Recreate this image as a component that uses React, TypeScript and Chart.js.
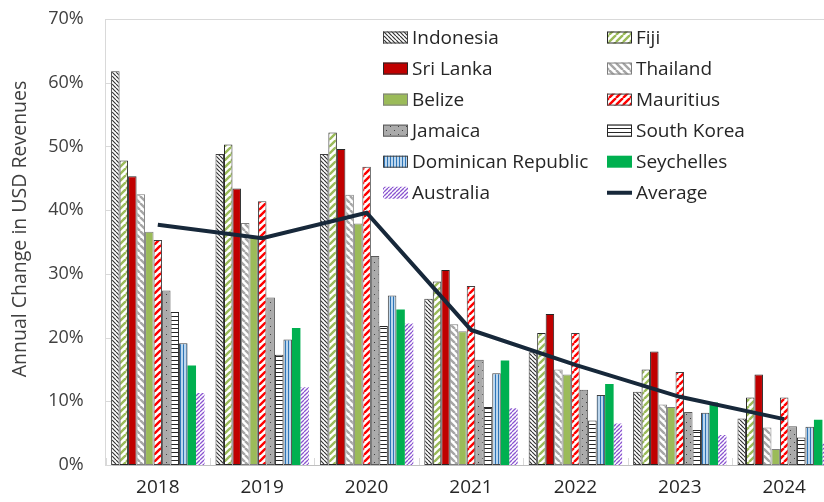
import React, { useEffect, useRef } from "react";
import { Chart, registerables } from "chart.js";

Chart.register(...registerables);

const years = ["2018", "2019", "2020", "2021", "2022", "2023", "2024"];

const indonesia = [61.8, 48.8, 48.8, 26.1, 17.7, 11.5, 7.3];
const fiji = [47.8, 50.3, 52.2, 28.8, 20.7, 15.0, 10.6];
const sriLanka = [45.3, 43.4, 49.6, 30.6, 23.7, 17.8, 14.2];
const thailand = [42.5, 38.0, 42.4, 22.1, 15.0, 9.5, 5.9];
const belize = [36.6, 35.9, 37.9, 21.0, 14.2, 9.1, 2.5];
const mauritius = [35.3, 41.4, 46.8, 28.1, 20.7, 14.6, 10.6];
const jamaica = [27.4, 26.3, 32.8, 16.5, 11.8, 8.3, 6.1];
const southKorea = [24.0, 17.3, 21.8, 9.1, 7.0, 5.5, 4.3];
const dominicanRepublic = [19.1, 19.7, 26.6, 14.4, 11.0, 8.2, 6.0];
const seychelles = [15.6, 21.5, 24.4, 16.4, 12.7, 9.8, 7.1];
const australia = [11.3, 12.2, 22.2, 8.9, 6.5, 4.7, 3.4];
const average = [37.7, 35.6, 39.6, 21.2, 15.7, 10.7, 7.2];

const yTicks = [0, 10, 20, 30, 40, 50, 60, 70];
const yTitle = "Annual Change in USD Revenues";

const FONT = "'Open Sans', 'Noto Sans', sans-serif";

function tile(w: number, h: number, bg: string | null, draw: (c: CanvasRenderingContext2D) => void) {
  const cv = document.createElement("canvas");
  cv.width = w;
  cv.height = h;
  const c = cv.getContext("2d")!;
  if (bg) {
    c.fillStyle = bg;
    c.fillRect(0, 0, w, h);
  }
  draw(c);
  const tmp = document.createElement("canvas").getContext("2d")!;
  return tmp.createPattern(cv, "repeat") as CanvasPattern;
}

function diag(p: number, lw: number, color: string, bg: string | null, dir: "down" | "up") {
  return tile(p, p, bg, (c) => {
    c.strokeStyle = color;
    c.lineWidth = lw;
    c.beginPath();
    for (let k = -1; k <= 2; k++) {
      if (dir === "down") {
        c.moveTo(k * p, 0);
        c.lineTo(k * p + p, p);
      } else {
        c.moveTo(k * p, 0);
        c.lineTo(k * p - p, p);
      }
    }
    c.stroke();
  });
}

function hlines(p: number, lw: number, color: string, bg: string) {
  return tile(p, p, bg, (c) => {
    c.fillStyle = color;
    c.fillRect(0, 0, p, lw);
  });
}

function vlines(p: number, lw: number, color: string, bg: string) {
  return tile(p, p, bg, (c) => {
    c.fillStyle = color;
    c.fillRect(0, 0, lw, p);
  });
}

function dots(bg: string, color: string) {
  return tile(8, 8, bg, (c) => {
    c.fillStyle = color;
    c.fillRect(2, 2, 1, 1);
    c.fillRect(6, 6, 1, 1);
  });
}

export default function App() {
  const ref = useRef<HTMLCanvasElement | null>(null);

  useEffect(() => {
    if (!ref.current) return;

    const series = [
      { label: "Indonesia", data: indonesia, bg: diag(4, 1.2, "#333333", "#ffffff", "down"), border: "#404040", bw: 1 },
      { label: "Fiji", data: fiji, bg: diag(7, 2.4, "#9BBB59", "#ffffff", "up"), border: "#262626", bw: 1 },
      { label: "Sri Lanka", data: sriLanka, bg: "#C00000", border: "#262626", bw: 1 },
      { label: "Thailand", data: thailand, bg: diag(7, 2.4, "#A6A6A6", "#ffffff", "down"), border: "#7F7F7F", bw: 1 },
      { label: "Belize", data: belize, bg: "#9BBB59", border: "#7F7F7F", bw: 1 },
      { label: "Mauritius", data: mauritius, bg: diag(7, 2.4, "#FF0000", "#ffffff", "up"), border: "#404040", bw: 1 },
      { label: "Jamaica", data: jamaica, bg: dots("#ABABAB", "#404040"), border: "#595959", bw: 1 },
      { label: "South Korea", data: southKorea, bg: hlines(4, 1, "#262626", "#ffffff"), border: "#262626", bw: 1 },
      { label: "Dominican Republic", data: dominicanRepublic, bg: vlines(3, 1, "#2E75B6", "#BDD7EE"), border: "#404040", bw: 1 },
      { label: "Seychelles", data: seychelles, bg: "#00B050", border: "#00B050", bw: 0 },
      { label: "Australia", data: australia, bg: diag(4, 1.3, "#8A55D0", "#ffffff", "up"), border: "#8A55D0", bw: 0 },
    ];

    const datasets: any[] = series.map((s) => ({
      type: "bar",
      label: s.label,
      data: s.data,
      backgroundColor: s.bg,
      borderColor: s.border,
      borderWidth: s.bw,
      borderSkipped: false,
      categoryPercentage: 0.895,
      barPercentage: 1,
      order: 1,
    }));
    datasets.push({
      type: "line",
      label: "Average",
      data: average,
      borderColor: "#17283A",
      borderWidth: 4,
      pointRadius: 0,
      tension: 0,
      fill: false,
      order: 0,
    });

    const decor = {
      id: "decor",
      beforeDatasetsDraw(chart: any) {
        const { ctx, chartArea } = chart;
        const { left, right, top, bottom } = chartArea;
        const x = chart.scales.x;
        const y = chart.scales.y;
        ctx.save();
        ctx.strokeStyle = "#D9D9D9";
        ctx.lineWidth = 1;
        ctx.beginPath();
        ctx.moveTo(left, Math.round(top) + 0.5);
        ctx.lineTo(right, Math.round(top) + 0.5);
        ctx.moveTo(Math.round(right) - 0.5, top);
        ctx.lineTo(Math.round(right) - 0.5, bottom);
        ctx.stroke();
        ctx.beginPath();
        for (const v of yTicks) {
          const py = Math.round(y.getPixelForValue(v)) + 0.5;
          ctx.moveTo(left, py);
          ctx.lineTo(left + 7, py);
        }
        const n = years.length;
        const step = (right - left) / n;
        for (let i = 0; i <= n; i++) {
          const px = Math.round(x.getPixelForValue(i) - step / 2) + 0.5;
          ctx.moveTo(px, bottom);
          ctx.lineTo(px, bottom - 7);
        }
        ctx.stroke();
        ctx.restore();
      },
      afterDraw(chart: any) {
        const { ctx, chartArea } = chart;
        ctx.save();
        // y-axis title
        ctx.translate(20, (chartArea.top + chartArea.bottom) / 2 - 13);
        ctx.rotate(-Math.PI / 2);
        ctx.fillStyle = "#404040";
        ctx.font = `19.5px ${FONT}`;
        ctx.textAlign = "center";
        ctx.textBaseline = "middle";
        ctx.fillText(yTitle, 0, 0);
        ctx.restore();

        // legend
        ctx.save();
        ctx.font = `19px ${FONT}`;
        ctx.textBaseline = "middle";
        ctx.textAlign = "left";
        const colX = [383, 607];
        const rowY0 = 37.5;
        const rowStep = 31.05;
        chart.data.datasets.forEach((ds: any, i: number) => {
          const col = i % 2;
          const row = Math.floor(i / 2);
          const bx = colX[col];
          const cy = rowY0 + row * rowStep;
          if (ds.type === "line") {
            ctx.strokeStyle = ds.borderColor;
            ctx.lineWidth = 4;
            ctx.beginPath();
            ctx.moveTo(bx, cy);
            ctx.lineTo(bx + 25, cy);
            ctx.stroke();
          } else {
            ctx.fillStyle = ds.backgroundColor;
            ctx.fillRect(bx, cy - 6, 25, 12);
            if (ds.borderWidth > 0) {
              ctx.strokeStyle = ds.borderColor;
              ctx.lineWidth = 1;
              ctx.strokeRect(bx + 0.5, cy - 5.5, 24, 11);
            }
          }
          ctx.fillStyle = "#262626";
          ctx.fillText(ds.label, bx + 29, cy + 1);
        });
        ctx.restore();
      },
    };

    const chart = new Chart(ref.current, {
      type: "bar",
      data: { labels: years, datasets },
      options: {
        animation: false,
        responsive: false,
        devicePixelRatio: 1,
        layout: { padding: { top: 19, right: 23.6, left: 0, bottom: 0 } },
        plugins: { legend: { display: false }, tooltip: { enabled: false }, title: { display: false } },
        scales: {
          x: {
            grid: { display: false, drawTicks: false },
            border: { display: true, color: "#BFBFBF", width: 1 },
            ticks: { color: "#262626", font: { family: FONT, size: 19 }, padding: 11 },
            afterFit: (s: any) => {
              s.height = 37;
            },
          },
          y: {
            min: 0,
            max: 70,
            grid: { display: false, drawTicks: true, tickLength: 22 },
            border: { display: true, color: "#D9D9D9", width: 1 },
            ticks: {
              stepSize: 10,
              color: "#404040",
              font: { family: FONT, size: 18 },
              padding: 0,
              callback: (v: any) => `${v}%`,
            },
            afterFit: (s: any) => {
              s.width = 105.6;
            },
          },
        },
      },
      plugins: [decor],
    } as any);

    return () => chart.destroy();
  }, []);

  return (
    <div
      style={{
        position: "fixed",
        left: 0,
        top: 0,
        width: 824,
        height: 502,
        overflow: "hidden",
        background: "#ffffff",
      }}
    >
      <canvas ref={ref} width={860} height={502} style={{ width: 860, height: 502, display: "block" }} />
    </div>
  );
}
